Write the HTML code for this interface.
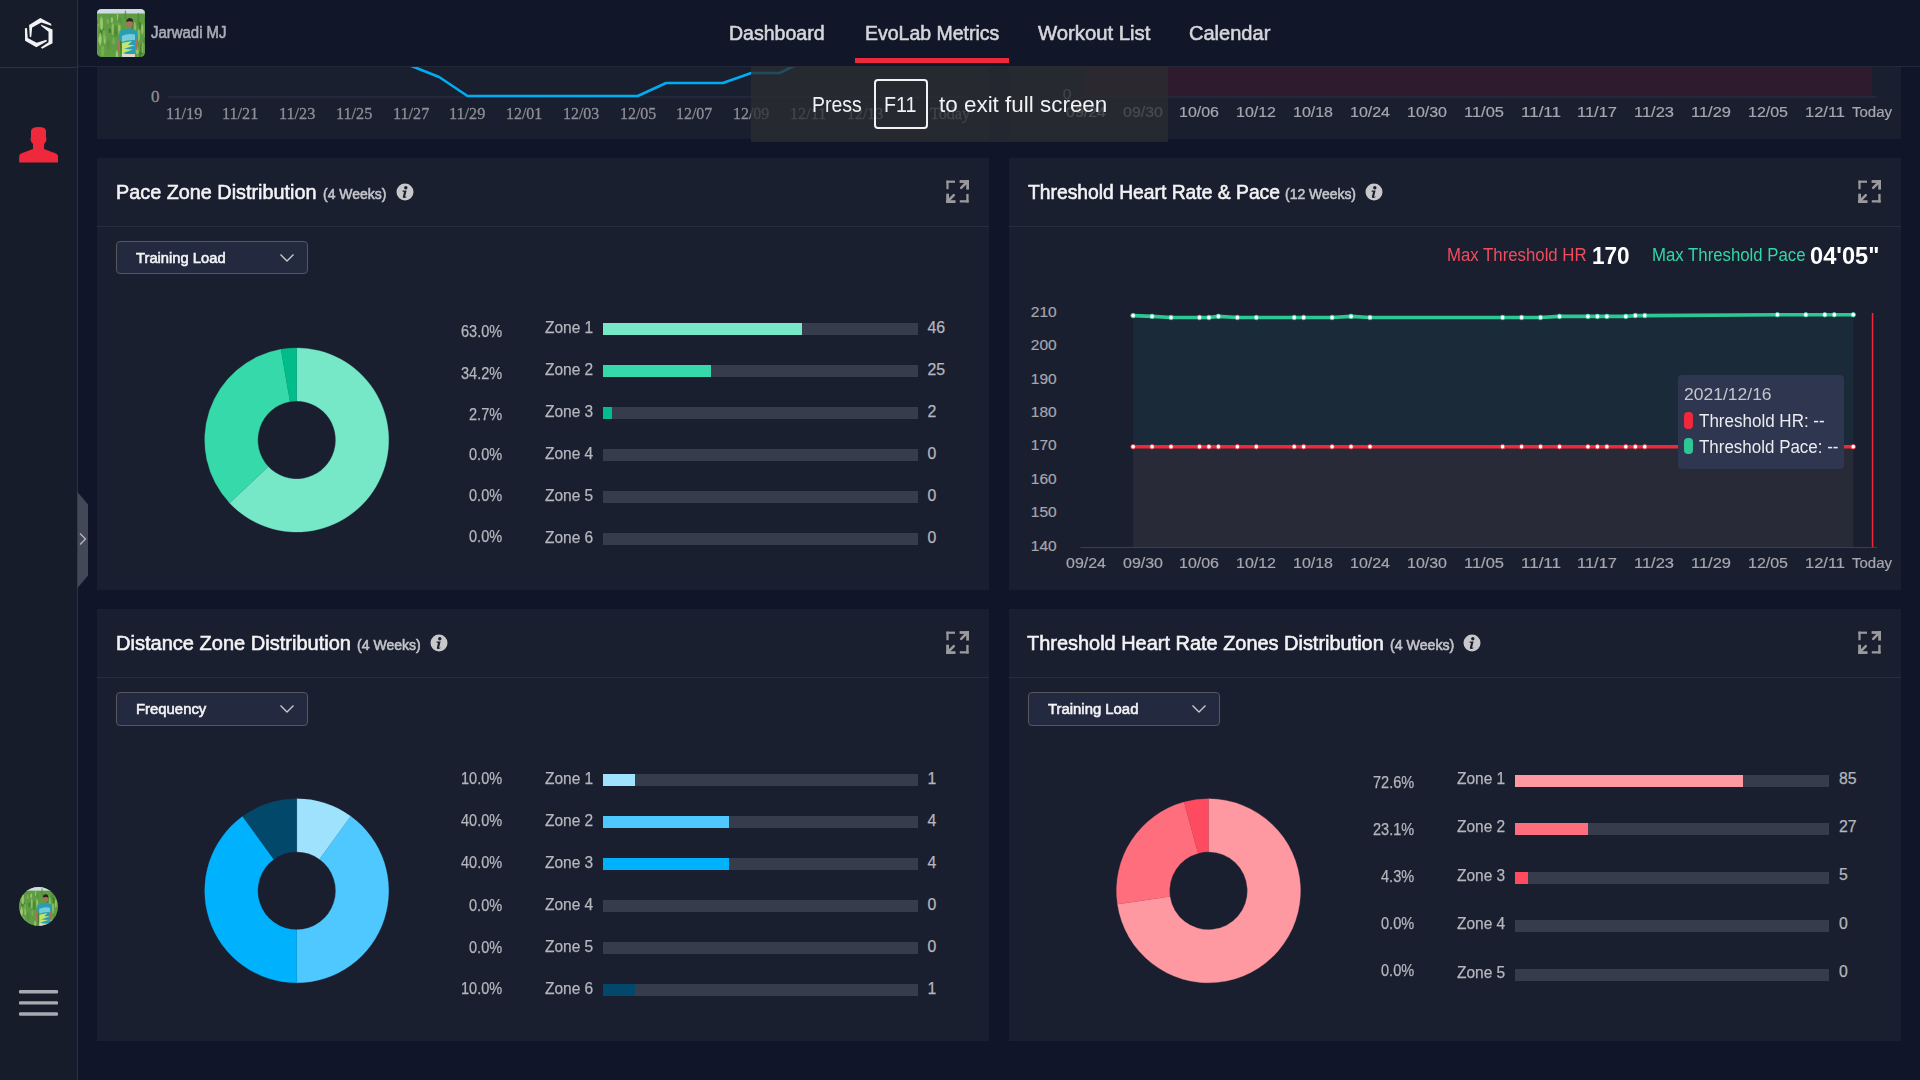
<!DOCTYPE html><html><head><meta charset="utf-8"><style>
html,body{margin:0;padding:0;width:1920px;height:1080px;overflow:hidden;background:#10152a;font-family:"Liberation Sans", sans-serif;}
.t{position:absolute;white-space:pre;}
.r{position:absolute;}
svg{position:absolute;left:0;top:0;}
</style></head><body>
<div class="r" style="left:97px;top:-300px;width:892px;height:439px;background:#1a1f30;"></div>
<div class="r" style="left:1009px;top:-300px;width:892px;height:439px;background:#1a1f30;"></div>
<div class="r" style="left:97px;top:158px;width:892px;height:432px;background:#1a1f30;"></div>
<div class="r" style="left:1009px;top:158px;width:892px;height:432px;background:#1a1f30;"></div>
<div class="r" style="left:97px;top:609px;width:892px;height:432px;background:#1a1f30;"></div>
<div class="r" style="left:1009px;top:609px;width:892px;height:432px;background:#1a1f30;"></div>
<div class="r" style="left:97px;top:226px;width:892px;height:1px;background:#272d3d;"></div>
<div class="r" style="left:1009px;top:226px;width:892px;height:1px;background:#272d3d;"></div>
<div class="r" style="left:97px;top:677px;width:892px;height:1px;background:#272d3d;"></div>
<div class="r" style="left:1009px;top:677px;width:892px;height:1px;background:#272d3d;"></div>
<div class="t" style="left:1446.80px;top:246.56px;font-size:17.5px;line-height:17.5px;color:#f14c5c;font-weight:normal;transform:scaleX(0.9590);transform-origin:left center;">Max Threshold HR</div>
<div class="t" style="left:1592.00px;top:243.83px;font-size:24px;line-height:24px;color:#ffffff;font-weight:bold;transform:scaleX(0.9392);transform-origin:left center;">170</div>
<div class="t" style="left:1651.50px;top:246.56px;font-size:17.5px;line-height:17.5px;color:#33d6a6;font-weight:normal;transform:scaleX(0.9589);transform-origin:left center;">Max Threshold Pace</div>
<div class="t" style="left:1809.90px;top:243.83px;font-size:24px;line-height:24px;color:#ffffff;font-weight:bold;transform:scaleX(0.9846);transform-origin:left center;">04'05"</div>
<div class="t" style="left:1030.85px;top:304.03px;font-size:15.5px;line-height:15.5px;color:#a6a7ae;font-weight:normal;-webkit-text-stroke:0.2px #a6a7ae;">210</div>
<div class="t" style="left:1030.85px;top:337.39px;font-size:15.5px;line-height:15.5px;color:#a6a7ae;font-weight:normal;-webkit-text-stroke:0.2px #a6a7ae;">200</div>
<div class="t" style="left:1030.85px;top:370.75px;font-size:15.5px;line-height:15.5px;color:#a6a7ae;font-weight:normal;-webkit-text-stroke:0.2px #a6a7ae;">190</div>
<div class="t" style="left:1030.85px;top:404.11px;font-size:15.5px;line-height:15.5px;color:#a6a7ae;font-weight:normal;-webkit-text-stroke:0.2px #a6a7ae;">180</div>
<div class="t" style="left:1030.85px;top:437.47px;font-size:15.5px;line-height:15.5px;color:#a6a7ae;font-weight:normal;-webkit-text-stroke:0.2px #a6a7ae;">170</div>
<div class="t" style="left:1030.85px;top:470.83px;font-size:15.5px;line-height:15.5px;color:#a6a7ae;font-weight:normal;-webkit-text-stroke:0.2px #a6a7ae;">160</div>
<div class="t" style="left:1030.85px;top:504.19px;font-size:15.5px;line-height:15.5px;color:#a6a7ae;font-weight:normal;-webkit-text-stroke:0.2px #a6a7ae;">150</div>
<div class="t" style="left:1030.85px;top:537.55px;font-size:15.5px;line-height:15.5px;color:#a6a7ae;font-weight:normal;-webkit-text-stroke:0.2px #a6a7ae;">140</div>
<div class="t" style="left:1065.75px;top:555.03px;font-size:15.5px;line-height:15.5px;color:#a6a7ae;font-weight:normal;transform:scaleX(1.0314);transform-origin:left center;-webkit-text-stroke:0.2px #a6a7ae;">09/24</div>
<div class="t" style="left:1122.60px;top:555.03px;font-size:15.5px;line-height:15.5px;color:#a6a7ae;font-weight:normal;transform:scaleX(1.0314);transform-origin:left center;-webkit-text-stroke:0.2px #a6a7ae;">09/30</div>
<div class="t" style="left:1179.45px;top:555.03px;font-size:15.5px;line-height:15.5px;color:#a6a7ae;font-weight:normal;transform:scaleX(1.0314);transform-origin:left center;-webkit-text-stroke:0.2px #a6a7ae;">10/06</div>
<div class="t" style="left:1236.30px;top:555.03px;font-size:15.5px;line-height:15.5px;color:#a6a7ae;font-weight:normal;transform:scaleX(1.0314);transform-origin:left center;-webkit-text-stroke:0.2px #a6a7ae;">10/12</div>
<div class="t" style="left:1293.15px;top:555.03px;font-size:15.5px;line-height:15.5px;color:#a6a7ae;font-weight:normal;transform:scaleX(1.0314);transform-origin:left center;-webkit-text-stroke:0.2px #a6a7ae;">10/18</div>
<div class="t" style="left:1350.00px;top:555.03px;font-size:15.5px;line-height:15.5px;color:#a6a7ae;font-weight:normal;transform:scaleX(1.0314);transform-origin:left center;-webkit-text-stroke:0.2px #a6a7ae;">10/24</div>
<div class="t" style="left:1406.85px;top:555.03px;font-size:15.5px;line-height:15.5px;color:#a6a7ae;font-weight:normal;transform:scaleX(1.0314);transform-origin:left center;-webkit-text-stroke:0.2px #a6a7ae;">10/30</div>
<div class="t" style="left:1463.70px;top:555.03px;font-size:15.5px;line-height:15.5px;color:#a6a7ae;font-weight:normal;transform:scaleX(1.0629);transform-origin:left center;-webkit-text-stroke:0.2px #a6a7ae;">11/05</div>
<div class="t" style="left:1520.55px;top:555.03px;font-size:15.5px;line-height:15.5px;color:#a6a7ae;font-weight:normal;transform:scaleX(1.0963);transform-origin:left center;-webkit-text-stroke:0.2px #a6a7ae;">11/11</div>
<div class="t" style="left:1577.40px;top:555.03px;font-size:15.5px;line-height:15.5px;color:#a6a7ae;font-weight:normal;transform:scaleX(1.0629);transform-origin:left center;-webkit-text-stroke:0.2px #a6a7ae;">11/17</div>
<div class="t" style="left:1634.25px;top:555.03px;font-size:15.5px;line-height:15.5px;color:#a6a7ae;font-weight:normal;transform:scaleX(1.0629);transform-origin:left center;-webkit-text-stroke:0.2px #a6a7ae;">11/23</div>
<div class="t" style="left:1691.10px;top:555.03px;font-size:15.5px;line-height:15.5px;color:#a6a7ae;font-weight:normal;transform:scaleX(1.0629);transform-origin:left center;-webkit-text-stroke:0.2px #a6a7ae;">11/29</div>
<div class="t" style="left:1747.95px;top:555.03px;font-size:15.5px;line-height:15.5px;color:#a6a7ae;font-weight:normal;transform:scaleX(1.0314);transform-origin:left center;-webkit-text-stroke:0.2px #a6a7ae;">12/05</div>
<div class="t" style="left:1804.80px;top:555.03px;font-size:15.5px;line-height:15.5px;color:#a6a7ae;font-weight:normal;transform:scaleX(1.0629);transform-origin:left center;-webkit-text-stroke:0.2px #a6a7ae;">12/11</div>
<div class="t" style="left:1851.70px;top:555.03px;font-size:15.5px;line-height:15.5px;color:#a6a7ae;font-weight:normal;transform:scaleX(0.9673);transform-origin:left center;-webkit-text-stroke:0.2px #a6a7ae;">Today</div>
<svg width="1920" height="1080" viewBox="0 0 1920 1080" style="left:0;top:0">
<path d="M1133.12,446.7 L1133.12,315.60 L1152.08,316.40 L1171.03,317.50 L1199.45,317.50 L1208.92,317.50 L1218.40,316.40 L1237.35,317.50 L1256.30,317.50 L1294.20,317.50 L1303.67,317.50 L1332.10,317.50 L1351.05,316.40 L1370.00,317.50 L1502.65,317.50 L1521.60,317.50 L1540.55,317.50 L1559.50,316.40 L1587.92,316.40 L1597.40,316.40 L1606.88,316.40 L1625.82,316.40 L1635.30,315.60 L1644.78,315.60 L1777.42,314.70 L1805.85,314.70 L1824.80,314.70 L1834.28,314.70 L1853.22,314.70 L1853.22,446.7 Z" fill="#1b2a38"/>
<rect x="1133.12" y="446.7" width="720.10" height="100.30000000000001" fill="#292a37"/>
<rect x="1080.5" y="547" width="796.5" height="1" fill="#3a3f4f"/>
<rect x="1871.8" y="313" width="1.5" height="234" fill="#f0283c"/>
<polyline points="1133.12,315.60 1152.08,316.40 1171.03,317.50 1199.45,317.50 1208.92,317.50 1218.40,316.40 1237.35,317.50 1256.30,317.50 1294.20,317.50 1303.67,317.50 1332.10,317.50 1351.05,316.40 1370.00,317.50 1502.65,317.50 1521.60,317.50 1540.55,317.50 1559.50,316.40 1587.92,316.40 1597.40,316.40 1606.88,316.40 1625.82,316.40 1635.30,315.60 1644.78,315.60 1777.42,314.70 1805.85,314.70 1824.80,314.70 1834.28,314.70 1853.22,314.70" fill="none" stroke="#2cc795" stroke-width="3.6" stroke-linejoin="round"/>
<polyline points="1133.12,446.7 1152.08,446.7 1171.03,446.7 1199.45,446.7 1208.92,446.7 1218.40,446.7 1237.35,446.7 1256.30,446.7 1294.20,446.7 1303.67,446.7 1332.10,446.7 1351.05,446.7 1370.00,446.7 1502.65,446.7 1521.60,446.7 1540.55,446.7 1559.50,446.7 1587.92,446.7 1597.40,446.7 1606.88,446.7 1625.82,446.7 1635.30,446.7 1644.78,446.7 1777.42,446.7 1805.85,446.7 1824.80,446.7 1834.28,446.7 1853.22,446.7" fill="none" stroke="#f0283c" stroke-width="3.5"/>
<circle cx="1133.12" cy="315.60" r="2.3" fill="#ffffff" stroke="#2cc795" stroke-width="0.8"/><circle cx="1152.08" cy="316.40" r="2.3" fill="#ffffff" stroke="#2cc795" stroke-width="0.8"/><circle cx="1171.03" cy="317.50" r="2.3" fill="#ffffff" stroke="#2cc795" stroke-width="0.8"/><circle cx="1199.45" cy="317.50" r="2.3" fill="#ffffff" stroke="#2cc795" stroke-width="0.8"/><circle cx="1208.92" cy="317.50" r="2.3" fill="#ffffff" stroke="#2cc795" stroke-width="0.8"/><circle cx="1218.40" cy="316.40" r="2.3" fill="#ffffff" stroke="#2cc795" stroke-width="0.8"/><circle cx="1237.35" cy="317.50" r="2.3" fill="#ffffff" stroke="#2cc795" stroke-width="0.8"/><circle cx="1256.30" cy="317.50" r="2.3" fill="#ffffff" stroke="#2cc795" stroke-width="0.8"/><circle cx="1294.20" cy="317.50" r="2.3" fill="#ffffff" stroke="#2cc795" stroke-width="0.8"/><circle cx="1303.67" cy="317.50" r="2.3" fill="#ffffff" stroke="#2cc795" stroke-width="0.8"/><circle cx="1332.10" cy="317.50" r="2.3" fill="#ffffff" stroke="#2cc795" stroke-width="0.8"/><circle cx="1351.05" cy="316.40" r="2.3" fill="#ffffff" stroke="#2cc795" stroke-width="0.8"/><circle cx="1370.00" cy="317.50" r="2.3" fill="#ffffff" stroke="#2cc795" stroke-width="0.8"/><circle cx="1502.65" cy="317.50" r="2.3" fill="#ffffff" stroke="#2cc795" stroke-width="0.8"/><circle cx="1521.60" cy="317.50" r="2.3" fill="#ffffff" stroke="#2cc795" stroke-width="0.8"/><circle cx="1540.55" cy="317.50" r="2.3" fill="#ffffff" stroke="#2cc795" stroke-width="0.8"/><circle cx="1559.50" cy="316.40" r="2.3" fill="#ffffff" stroke="#2cc795" stroke-width="0.8"/><circle cx="1587.92" cy="316.40" r="2.3" fill="#ffffff" stroke="#2cc795" stroke-width="0.8"/><circle cx="1597.40" cy="316.40" r="2.3" fill="#ffffff" stroke="#2cc795" stroke-width="0.8"/><circle cx="1606.88" cy="316.40" r="2.3" fill="#ffffff" stroke="#2cc795" stroke-width="0.8"/><circle cx="1625.82" cy="316.40" r="2.3" fill="#ffffff" stroke="#2cc795" stroke-width="0.8"/><circle cx="1635.30" cy="315.60" r="2.3" fill="#ffffff" stroke="#2cc795" stroke-width="0.8"/><circle cx="1644.78" cy="315.60" r="2.3" fill="#ffffff" stroke="#2cc795" stroke-width="0.8"/><circle cx="1777.42" cy="314.70" r="2.3" fill="#ffffff" stroke="#2cc795" stroke-width="0.8"/><circle cx="1805.85" cy="314.70" r="2.3" fill="#ffffff" stroke="#2cc795" stroke-width="0.8"/><circle cx="1824.80" cy="314.70" r="2.3" fill="#ffffff" stroke="#2cc795" stroke-width="0.8"/><circle cx="1834.28" cy="314.70" r="2.3" fill="#ffffff" stroke="#2cc795" stroke-width="0.8"/><circle cx="1853.22" cy="314.70" r="2.3" fill="#ffffff" stroke="#2cc795" stroke-width="0.8"/><circle cx="1133.12" cy="446.7" r="2.3" fill="#ffffff" stroke="#e8333f" stroke-width="0.9"/><circle cx="1152.08" cy="446.7" r="2.3" fill="#ffffff" stroke="#e8333f" stroke-width="0.9"/><circle cx="1171.03" cy="446.7" r="2.3" fill="#ffffff" stroke="#e8333f" stroke-width="0.9"/><circle cx="1199.45" cy="446.7" r="2.3" fill="#ffffff" stroke="#e8333f" stroke-width="0.9"/><circle cx="1208.92" cy="446.7" r="2.3" fill="#ffffff" stroke="#e8333f" stroke-width="0.9"/><circle cx="1218.40" cy="446.7" r="2.3" fill="#ffffff" stroke="#e8333f" stroke-width="0.9"/><circle cx="1237.35" cy="446.7" r="2.3" fill="#ffffff" stroke="#e8333f" stroke-width="0.9"/><circle cx="1256.30" cy="446.7" r="2.3" fill="#ffffff" stroke="#e8333f" stroke-width="0.9"/><circle cx="1294.20" cy="446.7" r="2.3" fill="#ffffff" stroke="#e8333f" stroke-width="0.9"/><circle cx="1303.67" cy="446.7" r="2.3" fill="#ffffff" stroke="#e8333f" stroke-width="0.9"/><circle cx="1332.10" cy="446.7" r="2.3" fill="#ffffff" stroke="#e8333f" stroke-width="0.9"/><circle cx="1351.05" cy="446.7" r="2.3" fill="#ffffff" stroke="#e8333f" stroke-width="0.9"/><circle cx="1370.00" cy="446.7" r="2.3" fill="#ffffff" stroke="#e8333f" stroke-width="0.9"/><circle cx="1502.65" cy="446.7" r="2.3" fill="#ffffff" stroke="#e8333f" stroke-width="0.9"/><circle cx="1521.60" cy="446.7" r="2.3" fill="#ffffff" stroke="#e8333f" stroke-width="0.9"/><circle cx="1540.55" cy="446.7" r="2.3" fill="#ffffff" stroke="#e8333f" stroke-width="0.9"/><circle cx="1559.50" cy="446.7" r="2.3" fill="#ffffff" stroke="#e8333f" stroke-width="0.9"/><circle cx="1587.92" cy="446.7" r="2.3" fill="#ffffff" stroke="#e8333f" stroke-width="0.9"/><circle cx="1597.40" cy="446.7" r="2.3" fill="#ffffff" stroke="#e8333f" stroke-width="0.9"/><circle cx="1606.88" cy="446.7" r="2.3" fill="#ffffff" stroke="#e8333f" stroke-width="0.9"/><circle cx="1625.82" cy="446.7" r="2.3" fill="#ffffff" stroke="#e8333f" stroke-width="0.9"/><circle cx="1635.30" cy="446.7" r="2.3" fill="#ffffff" stroke="#e8333f" stroke-width="0.9"/><circle cx="1644.78" cy="446.7" r="2.3" fill="#ffffff" stroke="#e8333f" stroke-width="0.9"/><circle cx="1777.42" cy="446.7" r="2.3" fill="#ffffff" stroke="#e8333f" stroke-width="0.9"/><circle cx="1805.85" cy="446.7" r="2.3" fill="#ffffff" stroke="#e8333f" stroke-width="0.9"/><circle cx="1824.80" cy="446.7" r="2.3" fill="#ffffff" stroke="#e8333f" stroke-width="0.9"/><circle cx="1834.28" cy="446.7" r="2.3" fill="#ffffff" stroke="#e8333f" stroke-width="0.9"/><circle cx="1853.22" cy="446.7" r="2.3" fill="#ffffff" stroke="#e8333f" stroke-width="0.9"/></svg>
<div class="r" style="left:1678px;top:375px;width:166px;height:94px;background:#2e3650;border-radius:4px;"></div>
<div class="t" style="left:1684.40px;top:386.05px;font-size:16.5px;line-height:16.5px;color:#c6c7cd;font-weight:normal;transform:scaleX(1.0608);transform-origin:left center;">2021/12/16</div>
<div class="r" style="left:1684px;top:412px;width:9px;height:17px;background:#f0283c;border-radius:4px;"></div>
<div class="r" style="left:1684px;top:438px;width:9px;height:16px;background:#2cc795;border-radius:4px;"></div>
<div class="t" style="left:1699.30px;top:413.26px;font-size:17.5px;line-height:17.5px;color:#ececef;font-weight:normal;transform:scaleX(0.9718);transform-origin:left center;">Threshold HR: --</div>
<div class="t" style="left:1699.30px;top:439.46px;font-size:17.5px;line-height:17.5px;color:#ececef;font-weight:normal;transform:scaleX(0.9691);transform-origin:left center;">Threshold Pace: --</div>
<div class="t" style="left:150.90px;top:88.10px;font-size:17px;line-height:17px;color:#8e8f95;font-weight:normal;-webkit-text-stroke:0.3px #8e8f95;font-family:'Liberation Serif',serif;">0</div>
<div class="t" style="left:165.60px;top:105.10px;font-size:17px;line-height:17px;color:#8e8f95;font-weight:normal;transform:scaleX(0.9528);transform-origin:left center;-webkit-text-stroke:0.3px #8e8f95;font-family:'Liberation Serif',serif;">11/19</div>
<div class="t" style="left:222.35px;top:105.10px;font-size:17px;line-height:17px;color:#8e8f95;font-weight:normal;transform:scaleX(0.9528);transform-origin:left center;-webkit-text-stroke:0.3px #8e8f95;font-family:'Liberation Serif',serif;">11/21</div>
<div class="t" style="left:279.10px;top:105.10px;font-size:17px;line-height:17px;color:#8e8f95;font-weight:normal;transform:scaleX(0.9528);transform-origin:left center;-webkit-text-stroke:0.3px #8e8f95;font-family:'Liberation Serif',serif;">11/23</div>
<div class="t" style="left:335.85px;top:105.10px;font-size:17px;line-height:17px;color:#8e8f95;font-weight:normal;transform:scaleX(0.9528);transform-origin:left center;-webkit-text-stroke:0.3px #8e8f95;font-family:'Liberation Serif',serif;">11/25</div>
<div class="t" style="left:392.60px;top:105.10px;font-size:17px;line-height:17px;color:#8e8f95;font-weight:normal;transform:scaleX(0.9528);transform-origin:left center;-webkit-text-stroke:0.3px #8e8f95;font-family:'Liberation Serif',serif;">11/27</div>
<div class="t" style="left:449.35px;top:105.10px;font-size:17px;line-height:17px;color:#8e8f95;font-weight:normal;transform:scaleX(0.9528);transform-origin:left center;-webkit-text-stroke:0.3px #8e8f95;font-family:'Liberation Serif',serif;">11/29</div>
<div class="t" style="left:506.10px;top:105.10px;font-size:17px;line-height:17px;color:#8e8f95;font-weight:normal;transform:scaleX(0.9374);transform-origin:left center;-webkit-text-stroke:0.3px #8e8f95;font-family:'Liberation Serif',serif;">12/01</div>
<div class="t" style="left:562.85px;top:105.10px;font-size:17px;line-height:17px;color:#8e8f95;font-weight:normal;transform:scaleX(0.9374);transform-origin:left center;-webkit-text-stroke:0.3px #8e8f95;font-family:'Liberation Serif',serif;">12/03</div>
<div class="t" style="left:619.60px;top:105.10px;font-size:17px;line-height:17px;color:#8e8f95;font-weight:normal;transform:scaleX(0.9374);transform-origin:left center;-webkit-text-stroke:0.3px #8e8f95;font-family:'Liberation Serif',serif;">12/05</div>
<div class="t" style="left:676.35px;top:105.10px;font-size:17px;line-height:17px;color:#8e8f95;font-weight:normal;transform:scaleX(0.9374);transform-origin:left center;-webkit-text-stroke:0.3px #8e8f95;font-family:'Liberation Serif',serif;">12/07</div>
<div class="t" style="left:733.10px;top:105.10px;font-size:17px;line-height:17px;color:#8e8f95;font-weight:normal;transform:scaleX(0.9374);transform-origin:left center;-webkit-text-stroke:0.3px #8e8f95;font-family:'Liberation Serif',serif;">12/09</div>
<div class="t" style="left:789.85px;top:105.10px;font-size:17px;line-height:17px;color:#8e8f95;font-weight:normal;transform:scaleX(0.9528);transform-origin:left center;-webkit-text-stroke:0.3px #8e8f95;font-family:'Liberation Serif',serif;">12/11</div>
<div class="t" style="left:846.60px;top:105.10px;font-size:17px;line-height:17px;color:#8e8f95;font-weight:normal;transform:scaleX(0.9374);transform-origin:left center;-webkit-text-stroke:0.3px #8e8f95;font-family:'Liberation Serif',serif;">12/13</div>
<div class="t" style="left:929.88px;top:105.10px;font-size:17px;line-height:17px;color:#8e8f95;font-weight:normal;transform:scaleX(0.9469);transform-origin:left center;-webkit-text-stroke:0.3px #8e8f95;font-family:'Liberation Serif',serif;">Today</div>
<svg width="1920" height="1080" viewBox="0 0 1920 1080" style="left:0;top:0">
<rect x="168" y="96.5" width="800" height="1" fill="#2c3142"/>
<polyline points="382.38,55 410.75,65.8 439.12,77 467.50,96 637.75,96 666.12,83 722.88,83 751.25,73 779.62,73 808.00,59 836.38,52" fill="none" stroke="#00adf0" stroke-width="2.6" stroke-linejoin="round"/>
<rect x="1085.4" y="40" width="786.6" height="55.75" fill="#2e1c2e"/>
<rect x="1080.8" y="96.5" width="796" height="1" fill="#2c3142"/>
</svg>
<div class="t" style="left:1062.63px;top:85.93px;font-size:15.5px;line-height:15.5px;color:#8e8f95;font-weight:normal;">0</div>
<div class="t" style="left:1065.75px;top:104.03px;font-size:15.5px;line-height:15.5px;color:#a6a7ae;font-weight:normal;transform:scaleX(1.0314);transform-origin:left center;-webkit-text-stroke:0.2px #a6a7ae;">09/24</div>
<div class="t" style="left:1122.60px;top:104.03px;font-size:15.5px;line-height:15.5px;color:#a6a7ae;font-weight:normal;transform:scaleX(1.0314);transform-origin:left center;-webkit-text-stroke:0.2px #a6a7ae;">09/30</div>
<div class="t" style="left:1179.45px;top:104.03px;font-size:15.5px;line-height:15.5px;color:#a6a7ae;font-weight:normal;transform:scaleX(1.0314);transform-origin:left center;-webkit-text-stroke:0.2px #a6a7ae;">10/06</div>
<div class="t" style="left:1236.30px;top:104.03px;font-size:15.5px;line-height:15.5px;color:#a6a7ae;font-weight:normal;transform:scaleX(1.0314);transform-origin:left center;-webkit-text-stroke:0.2px #a6a7ae;">10/12</div>
<div class="t" style="left:1293.15px;top:104.03px;font-size:15.5px;line-height:15.5px;color:#a6a7ae;font-weight:normal;transform:scaleX(1.0314);transform-origin:left center;-webkit-text-stroke:0.2px #a6a7ae;">10/18</div>
<div class="t" style="left:1350.00px;top:104.03px;font-size:15.5px;line-height:15.5px;color:#a6a7ae;font-weight:normal;transform:scaleX(1.0314);transform-origin:left center;-webkit-text-stroke:0.2px #a6a7ae;">10/24</div>
<div class="t" style="left:1406.85px;top:104.03px;font-size:15.5px;line-height:15.5px;color:#a6a7ae;font-weight:normal;transform:scaleX(1.0314);transform-origin:left center;-webkit-text-stroke:0.2px #a6a7ae;">10/30</div>
<div class="t" style="left:1463.70px;top:104.03px;font-size:15.5px;line-height:15.5px;color:#a6a7ae;font-weight:normal;transform:scaleX(1.0629);transform-origin:left center;-webkit-text-stroke:0.2px #a6a7ae;">11/05</div>
<div class="t" style="left:1520.55px;top:104.03px;font-size:15.5px;line-height:15.5px;color:#a6a7ae;font-weight:normal;transform:scaleX(1.0963);transform-origin:left center;-webkit-text-stroke:0.2px #a6a7ae;">11/11</div>
<div class="t" style="left:1577.40px;top:104.03px;font-size:15.5px;line-height:15.5px;color:#a6a7ae;font-weight:normal;transform:scaleX(1.0629);transform-origin:left center;-webkit-text-stroke:0.2px #a6a7ae;">11/17</div>
<div class="t" style="left:1634.25px;top:104.03px;font-size:15.5px;line-height:15.5px;color:#a6a7ae;font-weight:normal;transform:scaleX(1.0629);transform-origin:left center;-webkit-text-stroke:0.2px #a6a7ae;">11/23</div>
<div class="t" style="left:1691.10px;top:104.03px;font-size:15.5px;line-height:15.5px;color:#a6a7ae;font-weight:normal;transform:scaleX(1.0629);transform-origin:left center;-webkit-text-stroke:0.2px #a6a7ae;">11/29</div>
<div class="t" style="left:1747.95px;top:104.03px;font-size:15.5px;line-height:15.5px;color:#a6a7ae;font-weight:normal;transform:scaleX(1.0314);transform-origin:left center;-webkit-text-stroke:0.2px #a6a7ae;">12/05</div>
<div class="t" style="left:1804.80px;top:104.03px;font-size:15.5px;line-height:15.5px;color:#a6a7ae;font-weight:normal;transform:scaleX(1.0629);transform-origin:left center;-webkit-text-stroke:0.2px #a6a7ae;">12/11</div>
<div class="t" style="left:1851.70px;top:104.03px;font-size:15.5px;line-height:15.5px;color:#a6a7ae;font-weight:normal;transform:scaleX(0.9673);transform-origin:left center;-webkit-text-stroke:0.2px #a6a7ae;">Today</div>
<div class="r" style="left:78px;top:0px;width:1842px;height:66px;background:#111628;"></div>
<div class="r" style="left:78px;top:66px;width:1842px;height:1px;background:#232838;"></div>
<div class="r" style="left:0px;top:0px;width:77px;height:1080px;background:#171c2b;"></div>
<div class="r" style="left:77px;top:0px;width:1px;height:1080px;background:#2c3140;"></div>
<div class="r" style="left:0px;top:67px;width:77px;height:1px;background:#2c3140;"></div>
<svg width="77" height="67" viewBox="0 0 77 67" style="left:0;top:0">
<g fill="#f2f2f4">
<polygon points="29.83,37.17 29.07,25.00 40.33,18.07 51.07,23.73 51.50,25.83 41.33,22.40 32.17,27.60 31.27,36.83"/>
<polygon points="40.83,24.60 52.50,29.50 52.50,43.17 42.17,48.83 40.83,47.50 48.50,42.33 48.50,31.83 41.27,26.00"/>
<polygon points="24.93,28.33 27.00,27.93 27.73,38.00 36.67,42.83 46.50,39.83 46.93,41.33 36.33,47.17 25.07,40.67"/>
</g></svg>
<svg width="77" height="40" viewBox="0 0 77 40" style="left:0;top:125px">
<path fill="#f0283b" d="M31,6 Q31.5,2 38.6,2 Q46,2 46,6 L46,12 Q47,13 46,16.5 L44.2,19 L44,24 L56,28.5 Q58,29.5 58,31 L58,37.5 L19.2,37.5 L19.2,31 Q19.2,29.5 21,28.5 L33,24 L33,19 L31,16.5 Q30,13 31,12 Z"/>
</svg>
<svg width="20" height="100" viewBox="0 0 20 100" style="left:77px;top:490px">
<path fill="#424857" d="M0.5,2 L11,14.5 L11,85.6 L0.5,98 Z"/>
<polyline points="3,43.5 8.5,49 3,54.5" fill="none" stroke="#b3b6bd" stroke-width="1.4"/>
</svg>
<svg width="77" height="40" viewBox="0 0 77 40" style="left:0;top:980px"><rect x="19" y="10.1" width="39" height="3.4" rx="1.2" fill="#a7aab1"/><rect x="19" y="21.2" width="39" height="3.4" rx="1.2" fill="#a7aab1"/><rect x="19" y="32.3" width="39" height="3.4" rx="1.2" fill="#a7aab1"/></svg>
<svg width="48" height="48" viewBox="0 0 48 48" style="left:97px;top:9px">
<defs><clipPath id="clip979"><rect x="0" y="0" width="48" height="48" rx="4.5"/></clipPath><filter id="blclip979"><feGaussianBlur stdDeviation="0.5"/></filter></defs>
<g clip-path="url(#clip979)">
<rect width="48" height="48" fill="#5f9c44"/>
<rect width="48" height="4.5" fill="#cfdde2"/>
<g filter="url(#blclip979)"><ellipse cx="14.8" cy="10.9" rx="1.4" ry="2.8" fill="#a8d47a" opacity="0.7"/><ellipse cx="2.9" cy="30.8" rx="1.7" ry="3.5" fill="#9ccb6c" opacity="0.7"/><ellipse cx="20.5" cy="7.2" rx="0.7" ry="4.4" fill="#a8d47a" opacity="0.7"/><ellipse cx="4.4" cy="14.3" rx="1.4" ry="6.8" fill="#a8d47a" opacity="0.7"/><ellipse cx="28.4" cy="6.3" rx="0.9" ry="5.0" fill="#4a8a30" opacity="0.7"/><ellipse cx="13.1" cy="10.6" rx="0.7" ry="3.9" fill="#568f38" opacity="0.7"/><ellipse cx="7.4" cy="30.8" rx="1.4" ry="4.2" fill="#a8d47a" opacity="0.7"/><ellipse cx="35.0" cy="30.0" rx="1.3" ry="4.7" fill="#a8d47a" opacity="0.7"/><ellipse cx="20.2" cy="18.5" rx="1.3" ry="4.5" fill="#7fb555" opacity="0.7"/><ellipse cx="10.9" cy="12.3" rx="1.5" ry="2.9" fill="#7fb555" opacity="0.7"/><ellipse cx="25.3" cy="44.3" rx="1.5" ry="3.8" fill="#9ccb6c" opacity="0.7"/><ellipse cx="4.1" cy="23.2" rx="1.5" ry="3.2" fill="#3b7027" opacity="0.7"/><ellipse cx="19.9" cy="48.3" rx="0.7" ry="5.0" fill="#7fb555" opacity="0.7"/><ellipse cx="15.7" cy="20.1" rx="1.2" ry="6.1" fill="#9ccb6c" opacity="0.7"/><ellipse cx="41.7" cy="47.5" rx="1.2" ry="5.5" fill="#9ccb6c" opacity="0.7"/><ellipse cx="36.0" cy="18.2" rx="1.3" ry="5.6" fill="#3b7027" opacity="0.7"/><ellipse cx="12.8" cy="21.7" rx="1.4" ry="2.6" fill="#3b7027" opacity="0.7"/><ellipse cx="16.5" cy="32.1" rx="1.2" ry="3.5" fill="#7fb555" opacity="0.7"/><ellipse cx="4.7" cy="15.4" rx="1.1" ry="6.4" fill="#9ccb6c" opacity="0.7"/><ellipse cx="6.7" cy="22.5" rx="0.9" ry="3.1" fill="#3b7027" opacity="0.7"/><ellipse cx="42.9" cy="16.8" rx="1.1" ry="4.1" fill="#3b7027" opacity="0.7"/><ellipse cx="47.8" cy="10.9" rx="0.8" ry="3.5" fill="#4a8a30" opacity="0.7"/><ellipse cx="-1.4" cy="42.2" rx="0.8" ry="3.8" fill="#4a8a30" opacity="0.7"/><ellipse cx="19.8" cy="21.0" rx="1.3" ry="6.8" fill="#568f38" opacity="0.7"/><ellipse cx="42.7" cy="47.7" rx="1.4" ry="5.8" fill="#3b7027" opacity="0.7"/><ellipse cx="44.8" cy="39.9" rx="1.6" ry="6.1" fill="#3b7027" opacity="0.7"/><ellipse cx="18.7" cy="22.1" rx="1.2" ry="4.3" fill="#4a8a30" opacity="0.7"/><ellipse cx="1.5" cy="13.6" rx="0.8" ry="4.0" fill="#9ccb6c" opacity="0.7"/><ellipse cx="3.3" cy="30.1" rx="1.2" ry="6.8" fill="#a8d47a" opacity="0.7"/><ellipse cx="-0.7" cy="44.2" rx="1.3" ry="3.2" fill="#7fb555" opacity="0.7"/><ellipse cx="47.7" cy="31.7" rx="1.2" ry="3.0" fill="#3b7027" opacity="0.7"/><ellipse cx="49.6" cy="25.4" rx="1.2" ry="2.9" fill="#9ccb6c" opacity="0.7"/><ellipse cx="37.0" cy="38.1" rx="1.2" ry="5.6" fill="#a8d47a" opacity="0.7"/><ellipse cx="-0.8" cy="47.7" rx="1.2" ry="3.2" fill="#a8d47a" opacity="0.7"/><ellipse cx="45.5" cy="38.9" rx="1.0" ry="5.4" fill="#9ccb6c" opacity="0.7"/><ellipse cx="34.2" cy="16.0" rx="1.0" ry="3.3" fill="#4a8a30" opacity="0.7"/><ellipse cx="25.7" cy="39.8" rx="1.0" ry="3.5" fill="#4a8a30" opacity="0.7"/><ellipse cx="39.9" cy="41.6" rx="1.5" ry="3.5" fill="#a8d47a" opacity="0.7"/><ellipse cx="23.6" cy="37.6" rx="1.8" ry="6.1" fill="#3b7027" opacity="0.7"/><ellipse cx="11.5" cy="35.9" rx="1.7" ry="4.5" fill="#568f38" opacity="0.7"/><ellipse cx="49.4" cy="47.9" rx="1.0" ry="3.5" fill="#4a8a30" opacity="0.7"/><ellipse cx="22.4" cy="19.5" rx="1.2" ry="6.9" fill="#a8d47a" opacity="0.7"/><ellipse cx="41.7" cy="26.1" rx="1.4" ry="6.1" fill="#9ccb6c" opacity="0.7"/><ellipse cx="41.4" cy="9.5" rx="1.1" ry="5.7" fill="#4a8a30" opacity="0.7"/><ellipse cx="22.9" cy="12.2" rx="1.5" ry="4.0" fill="#568f38" opacity="0.7"/><ellipse cx="18.6" cy="22.5" rx="1.7" ry="5.8" fill="#4a8a30" opacity="0.7"/><ellipse cx="49.6" cy="5.3" rx="1.3" ry="4.6" fill="#568f38" opacity="0.7"/><ellipse cx="5.6" cy="42.0" rx="1.8" ry="5.5" fill="#7fb555" opacity="0.7"/><ellipse cx="6.1" cy="29.2" rx="0.6" ry="6.1" fill="#568f38" opacity="0.7"/><ellipse cx="31.8" cy="28.2" rx="1.7" ry="4.5" fill="#4a8a30" opacity="0.7"/><ellipse cx="41.0" cy="13.7" rx="0.9" ry="3.8" fill="#4a8a30" opacity="0.7"/><ellipse cx="37.7" cy="19.0" rx="1.3" ry="6.3" fill="#9ccb6c" opacity="0.7"/><ellipse cx="45.3" cy="20.3" rx="1.1" ry="5.1" fill="#a8d47a" opacity="0.7"/><ellipse cx="19.9" cy="46.2" rx="1.2" ry="4.9" fill="#a8d47a" opacity="0.7"/><ellipse cx="24.5" cy="44.1" rx="1.5" ry="5.2" fill="#4a8a30" opacity="0.7"/><ellipse cx="7.0" cy="25.8" rx="1.5" ry="5.0" fill="#7fb555" opacity="0.7"/><ellipse cx="33.5" cy="28.4" rx="1.2" ry="6.0" fill="#a8d47a" opacity="0.7"/><ellipse cx="1.0" cy="12.8" rx="0.7" ry="2.9" fill="#3b7027" opacity="0.7"/><ellipse cx="27.2" cy="39.0" rx="1.7" ry="4.5" fill="#a8d47a" opacity="0.7"/><ellipse cx="48.6" cy="31.9" rx="0.8" ry="3.7" fill="#a8d47a" opacity="0.7"/>
<ellipse cx="32.5" cy="14.5" rx="3.3" ry="4.2" fill="#a8735a"/>
<path d="M29.2,13 Q29.5,9 33,9 Q36.5,9.5 36,13 Q33,11.5 29.2,13Z" fill="#2c2420"/>
<path d="M22.5,22 Q27,19.5 33,19.5 Q38.5,20 40.5,23 L41,31 L38.5,31.5 L38.5,46 L25,46 L24.5,31 L21.5,31 Z" fill="#2b9db6"/>
<path d="M24.8,27 Q31,24 38,25.5 L38,31 Q31,30.5 25,33Z" fill="#8ad8e0" opacity="0.8"/>
<path d="M25,34 L35,32 L31,36 L38,36 L27,40 L36,40.5 L26,44 L33,46 L25,46Z" fill="#d6ec5e" opacity="0.9"/>
<rect x="20.5" y="30" width="2.6" height="13" rx="1" fill="#a8735a"/>
<rect x="38.2" y="30" width="2.2" height="11" rx="1" fill="#a8735a"/>
<rect x="25" y="45" width="13" height="4" fill="#ddd8c8"/>
</g>
</g></svg>
<svg width="39" height="39" viewBox="0 0 48 48" style="left:19px;top:887px">
<defs><clipPath id="clip19887"><circle cx="24" cy="24" r="24"/></clipPath><filter id="blclip19887"><feGaussianBlur stdDeviation="0.5"/></filter></defs>
<g clip-path="url(#clip19887)">
<rect width="48" height="48" fill="#5f9c44"/>
<rect width="48" height="4.5" fill="#cfdde2"/>
<g filter="url(#blclip19887)"><ellipse cx="14.8" cy="10.9" rx="1.4" ry="2.8" fill="#a8d47a" opacity="0.7"/><ellipse cx="2.9" cy="30.8" rx="1.7" ry="3.5" fill="#9ccb6c" opacity="0.7"/><ellipse cx="20.5" cy="7.2" rx="0.7" ry="4.4" fill="#a8d47a" opacity="0.7"/><ellipse cx="4.4" cy="14.3" rx="1.4" ry="6.8" fill="#a8d47a" opacity="0.7"/><ellipse cx="28.4" cy="6.3" rx="0.9" ry="5.0" fill="#4a8a30" opacity="0.7"/><ellipse cx="13.1" cy="10.6" rx="0.7" ry="3.9" fill="#568f38" opacity="0.7"/><ellipse cx="7.4" cy="30.8" rx="1.4" ry="4.2" fill="#a8d47a" opacity="0.7"/><ellipse cx="35.0" cy="30.0" rx="1.3" ry="4.7" fill="#a8d47a" opacity="0.7"/><ellipse cx="20.2" cy="18.5" rx="1.3" ry="4.5" fill="#7fb555" opacity="0.7"/><ellipse cx="10.9" cy="12.3" rx="1.5" ry="2.9" fill="#7fb555" opacity="0.7"/><ellipse cx="25.3" cy="44.3" rx="1.5" ry="3.8" fill="#9ccb6c" opacity="0.7"/><ellipse cx="4.1" cy="23.2" rx="1.5" ry="3.2" fill="#3b7027" opacity="0.7"/><ellipse cx="19.9" cy="48.3" rx="0.7" ry="5.0" fill="#7fb555" opacity="0.7"/><ellipse cx="15.7" cy="20.1" rx="1.2" ry="6.1" fill="#9ccb6c" opacity="0.7"/><ellipse cx="41.7" cy="47.5" rx="1.2" ry="5.5" fill="#9ccb6c" opacity="0.7"/><ellipse cx="36.0" cy="18.2" rx="1.3" ry="5.6" fill="#3b7027" opacity="0.7"/><ellipse cx="12.8" cy="21.7" rx="1.4" ry="2.6" fill="#3b7027" opacity="0.7"/><ellipse cx="16.5" cy="32.1" rx="1.2" ry="3.5" fill="#7fb555" opacity="0.7"/><ellipse cx="4.7" cy="15.4" rx="1.1" ry="6.4" fill="#9ccb6c" opacity="0.7"/><ellipse cx="6.7" cy="22.5" rx="0.9" ry="3.1" fill="#3b7027" opacity="0.7"/><ellipse cx="42.9" cy="16.8" rx="1.1" ry="4.1" fill="#3b7027" opacity="0.7"/><ellipse cx="47.8" cy="10.9" rx="0.8" ry="3.5" fill="#4a8a30" opacity="0.7"/><ellipse cx="-1.4" cy="42.2" rx="0.8" ry="3.8" fill="#4a8a30" opacity="0.7"/><ellipse cx="19.8" cy="21.0" rx="1.3" ry="6.8" fill="#568f38" opacity="0.7"/><ellipse cx="42.7" cy="47.7" rx="1.4" ry="5.8" fill="#3b7027" opacity="0.7"/><ellipse cx="44.8" cy="39.9" rx="1.6" ry="6.1" fill="#3b7027" opacity="0.7"/><ellipse cx="18.7" cy="22.1" rx="1.2" ry="4.3" fill="#4a8a30" opacity="0.7"/><ellipse cx="1.5" cy="13.6" rx="0.8" ry="4.0" fill="#9ccb6c" opacity="0.7"/><ellipse cx="3.3" cy="30.1" rx="1.2" ry="6.8" fill="#a8d47a" opacity="0.7"/><ellipse cx="-0.7" cy="44.2" rx="1.3" ry="3.2" fill="#7fb555" opacity="0.7"/><ellipse cx="47.7" cy="31.7" rx="1.2" ry="3.0" fill="#3b7027" opacity="0.7"/><ellipse cx="49.6" cy="25.4" rx="1.2" ry="2.9" fill="#9ccb6c" opacity="0.7"/><ellipse cx="37.0" cy="38.1" rx="1.2" ry="5.6" fill="#a8d47a" opacity="0.7"/><ellipse cx="-0.8" cy="47.7" rx="1.2" ry="3.2" fill="#a8d47a" opacity="0.7"/><ellipse cx="45.5" cy="38.9" rx="1.0" ry="5.4" fill="#9ccb6c" opacity="0.7"/><ellipse cx="34.2" cy="16.0" rx="1.0" ry="3.3" fill="#4a8a30" opacity="0.7"/><ellipse cx="25.7" cy="39.8" rx="1.0" ry="3.5" fill="#4a8a30" opacity="0.7"/><ellipse cx="39.9" cy="41.6" rx="1.5" ry="3.5" fill="#a8d47a" opacity="0.7"/><ellipse cx="23.6" cy="37.6" rx="1.8" ry="6.1" fill="#3b7027" opacity="0.7"/><ellipse cx="11.5" cy="35.9" rx="1.7" ry="4.5" fill="#568f38" opacity="0.7"/><ellipse cx="49.4" cy="47.9" rx="1.0" ry="3.5" fill="#4a8a30" opacity="0.7"/><ellipse cx="22.4" cy="19.5" rx="1.2" ry="6.9" fill="#a8d47a" opacity="0.7"/><ellipse cx="41.7" cy="26.1" rx="1.4" ry="6.1" fill="#9ccb6c" opacity="0.7"/><ellipse cx="41.4" cy="9.5" rx="1.1" ry="5.7" fill="#4a8a30" opacity="0.7"/><ellipse cx="22.9" cy="12.2" rx="1.5" ry="4.0" fill="#568f38" opacity="0.7"/><ellipse cx="18.6" cy="22.5" rx="1.7" ry="5.8" fill="#4a8a30" opacity="0.7"/><ellipse cx="49.6" cy="5.3" rx="1.3" ry="4.6" fill="#568f38" opacity="0.7"/><ellipse cx="5.6" cy="42.0" rx="1.8" ry="5.5" fill="#7fb555" opacity="0.7"/><ellipse cx="6.1" cy="29.2" rx="0.6" ry="6.1" fill="#568f38" opacity="0.7"/><ellipse cx="31.8" cy="28.2" rx="1.7" ry="4.5" fill="#4a8a30" opacity="0.7"/><ellipse cx="41.0" cy="13.7" rx="0.9" ry="3.8" fill="#4a8a30" opacity="0.7"/><ellipse cx="37.7" cy="19.0" rx="1.3" ry="6.3" fill="#9ccb6c" opacity="0.7"/><ellipse cx="45.3" cy="20.3" rx="1.1" ry="5.1" fill="#a8d47a" opacity="0.7"/><ellipse cx="19.9" cy="46.2" rx="1.2" ry="4.9" fill="#a8d47a" opacity="0.7"/><ellipse cx="24.5" cy="44.1" rx="1.5" ry="5.2" fill="#4a8a30" opacity="0.7"/><ellipse cx="7.0" cy="25.8" rx="1.5" ry="5.0" fill="#7fb555" opacity="0.7"/><ellipse cx="33.5" cy="28.4" rx="1.2" ry="6.0" fill="#a8d47a" opacity="0.7"/><ellipse cx="1.0" cy="12.8" rx="0.7" ry="2.9" fill="#3b7027" opacity="0.7"/><ellipse cx="27.2" cy="39.0" rx="1.7" ry="4.5" fill="#a8d47a" opacity="0.7"/><ellipse cx="48.6" cy="31.9" rx="0.8" ry="3.7" fill="#a8d47a" opacity="0.7"/>
<ellipse cx="32.5" cy="14.5" rx="3.3" ry="4.2" fill="#a8735a"/>
<path d="M29.2,13 Q29.5,9 33,9 Q36.5,9.5 36,13 Q33,11.5 29.2,13Z" fill="#2c2420"/>
<path d="M22.5,22 Q27,19.5 33,19.5 Q38.5,20 40.5,23 L41,31 L38.5,31.5 L38.5,46 L25,46 L24.5,31 L21.5,31 Z" fill="#2b9db6"/>
<path d="M24.8,27 Q31,24 38,25.5 L38,31 Q31,30.5 25,33Z" fill="#8ad8e0" opacity="0.8"/>
<path d="M25,34 L35,32 L31,36 L38,36 L27,40 L36,40.5 L26,44 L33,46 L25,46Z" fill="#d6ec5e" opacity="0.9"/>
<rect x="20.5" y="30" width="2.6" height="13" rx="1" fill="#a8735a"/>
<rect x="38.2" y="30" width="2.2" height="11" rx="1" fill="#a8735a"/>
<rect x="25" y="45" width="13" height="4" fill="#ddd8c8"/>
</g>
</g></svg>
<div class="t" style="left:150.50px;top:25.49px;font-size:16px;line-height:16px;color:#a9acb6;font-weight:normal;transform:scaleX(0.9331);transform-origin:left center;-webkit-text-stroke:0.6px #a9acb6;">Jarwadi MJ</div>
<div class="t" style="left:729.40px;top:22.62px;font-size:20.5px;line-height:20.5px;color:#d5d6db;font-weight:normal;transform:scaleX(0.9533);transform-origin:left center;-webkit-text-stroke:0.6px #d5d6db;">Dashboard</div>
<div class="t" style="left:865.40px;top:22.62px;font-size:20.5px;line-height:20.5px;color:#d5d6db;font-weight:normal;transform:scaleX(0.9498);transform-origin:left center;-webkit-text-stroke:0.6px #d5d6db;">EvoLab Metrics</div>
<div class="t" style="left:1038.00px;top:22.62px;font-size:20.5px;line-height:20.5px;color:#d5d6db;font-weight:normal;transform:scaleX(0.9899);transform-origin:left center;-webkit-text-stroke:0.6px #d5d6db;">Workout List</div>
<div class="t" style="left:1188.90px;top:22.62px;font-size:20.5px;line-height:20.5px;color:#d5d6db;font-weight:normal;transform:scaleX(0.9773);transform-origin:left center;-webkit-text-stroke:0.6px #d5d6db;">Calendar</div>
<div class="r" style="left:855px;top:58px;width:154px;height:5px;background:#f0283c;"></div>
<div class="t" style="left:115.80px;top:181.72px;font-size:20.5px;line-height:20.5px;color:#f3f3f5;font-weight:normal;transform:scaleX(0.9664);transform-origin:left center;-webkit-text-stroke:0.6px #f3f3f5;">Pace Zone Distribution</div>
<svg width="20" height="20" viewBox="0 0 20 20" style="left:394.5px;top:181.5px">
<circle cx="10" cy="10" r="8.5" fill="#c8c8ca"/>
<circle cx="10.8" cy="5.8" r="1.7" fill="#1a1f30"/>
<path d="M7.6,8.6 L11.6,8.4 L10.2,14.2 Q10.1,14.9 10.8,14.7 L11.6,14.4 L11.4,15.3 Q9.8,16.1 8.6,15.9 Q7.6,15.6 7.9,14.5 L9,9.9 L7.5,9.6 Z" fill="#1a1f30"/>
</svg>
<svg width="24" height="24" viewBox="0 0 24 24" style="left:945.8px;top:179.9px">
<g fill="#9a9a9e">
<rect x="0.4" y="0.6" width="2.2" height="8.6"/><rect x="0.4" y="0.6" width="8.6" height="2.2"/>
<rect x="20.2" y="0.1" width="2.8" height="9.5"/><rect x="13.6" y="0.1" width="9.4" height="2.8"/>
<rect x="0.2" y="13.7" width="2.8" height="9.2"/><rect x="0.2" y="20.2" width="9.3" height="2.8"/>
<rect x="20.3" y="13.9" width="2.3" height="8.6"/><rect x="13.8" y="20.2" width="8.8" height="2.3"/>
</g>
<g stroke="#9a9a9e" stroke-width="2.5" stroke-linecap="round">
<line x1="21" y1="2" x2="15.2" y2="7.8"/>
<line x1="2" y1="21" x2="7.8" y2="15.2"/>
</g></svg>
<div class="t" style="left:322.70px;top:186.47px;font-size:15px;line-height:15px;color:#c4c5cb;font-weight:normal;transform:scaleX(0.9299);transform-origin:left center;-webkit-text-stroke:0.6px #c4c5cb;">(4 Weeks)</div>
<div class="t" style="left:1027.50px;top:181.72px;font-size:20.5px;line-height:20.5px;color:#f3f3f5;font-weight:normal;transform:scaleX(0.9411);transform-origin:left center;-webkit-text-stroke:0.6px #f3f3f5;">Threshold Heart Rate &amp; Pace</div>
<svg width="20" height="20" viewBox="0 0 20 20" style="left:1364.2px;top:181.5px">
<circle cx="10" cy="10" r="8.5" fill="#c8c8ca"/>
<circle cx="10.8" cy="5.8" r="1.7" fill="#1a1f30"/>
<path d="M7.6,8.6 L11.6,8.4 L10.2,14.2 Q10.1,14.9 10.8,14.7 L11.6,14.4 L11.4,15.3 Q9.8,16.1 8.6,15.9 Q7.6,15.6 7.9,14.5 L9,9.9 L7.5,9.6 Z" fill="#1a1f30"/>
</svg>
<svg width="24" height="24" viewBox="0 0 24 24" style="left:1857.8px;top:179.9px">
<g fill="#9a9a9e">
<rect x="0.4" y="0.6" width="2.2" height="8.6"/><rect x="0.4" y="0.6" width="8.6" height="2.2"/>
<rect x="20.2" y="0.1" width="2.8" height="9.5"/><rect x="13.6" y="0.1" width="9.4" height="2.8"/>
<rect x="0.2" y="13.7" width="2.8" height="9.2"/><rect x="0.2" y="20.2" width="9.3" height="2.8"/>
<rect x="20.3" y="13.9" width="2.3" height="8.6"/><rect x="13.8" y="20.2" width="8.8" height="2.3"/>
</g>
<g stroke="#9a9a9e" stroke-width="2.5" stroke-linecap="round">
<line x1="21" y1="2" x2="15.2" y2="7.8"/>
<line x1="2" y1="21" x2="7.8" y2="15.2"/>
</g></svg>
<div class="t" style="left:1285.00px;top:186.47px;font-size:15px;line-height:15px;color:#c4c5cb;font-weight:normal;transform:scaleX(0.9292);transform-origin:left center;-webkit-text-stroke:0.6px #c4c5cb;">(12 Weeks)</div>
<div class="t" style="left:115.80px;top:632.72px;font-size:20.5px;line-height:20.5px;color:#f3f3f5;font-weight:normal;transform:scaleX(0.9774);transform-origin:left center;-webkit-text-stroke:0.6px #f3f3f5;">Distance Zone Distribution</div>
<svg width="20" height="20" viewBox="0 0 20 20" style="left:428.5px;top:632.5px">
<circle cx="10" cy="10" r="8.5" fill="#c8c8ca"/>
<circle cx="10.8" cy="5.8" r="1.7" fill="#1a1f30"/>
<path d="M7.6,8.6 L11.6,8.4 L10.2,14.2 Q10.1,14.9 10.8,14.7 L11.6,14.4 L11.4,15.3 Q9.8,16.1 8.6,15.9 Q7.6,15.6 7.9,14.5 L9,9.9 L7.5,9.6 Z" fill="#1a1f30"/>
</svg>
<svg width="24" height="24" viewBox="0 0 24 24" style="left:945.8px;top:630.9px">
<g fill="#9a9a9e">
<rect x="0.4" y="0.6" width="2.2" height="8.6"/><rect x="0.4" y="0.6" width="8.6" height="2.2"/>
<rect x="20.2" y="0.1" width="2.8" height="9.5"/><rect x="13.6" y="0.1" width="9.4" height="2.8"/>
<rect x="0.2" y="13.7" width="2.8" height="9.2"/><rect x="0.2" y="20.2" width="9.3" height="2.8"/>
<rect x="20.3" y="13.9" width="2.3" height="8.6"/><rect x="13.8" y="20.2" width="8.8" height="2.3"/>
</g>
<g stroke="#9a9a9e" stroke-width="2.5" stroke-linecap="round">
<line x1="21" y1="2" x2="15.2" y2="7.8"/>
<line x1="2" y1="21" x2="7.8" y2="15.2"/>
</g></svg>
<div class="t" style="left:356.70px;top:637.47px;font-size:15px;line-height:15px;color:#c4c5cb;font-weight:normal;transform:scaleX(0.9358);transform-origin:left center;-webkit-text-stroke:0.6px #c4c5cb;">(4 Weeks)</div>
<div class="t" style="left:1027.20px;top:632.72px;font-size:20.5px;line-height:20.5px;color:#f3f3f5;font-weight:normal;transform:scaleX(0.9725);transform-origin:left center;-webkit-text-stroke:0.6px #f3f3f5;">Threshold Heart Rate Zones Distribution</div>
<svg width="20" height="20" viewBox="0 0 20 20" style="left:1461.8px;top:632.5px">
<circle cx="10" cy="10" r="8.5" fill="#c8c8ca"/>
<circle cx="10.8" cy="5.8" r="1.7" fill="#1a1f30"/>
<path d="M7.6,8.6 L11.6,8.4 L10.2,14.2 Q10.1,14.9 10.8,14.7 L11.6,14.4 L11.4,15.3 Q9.8,16.1 8.6,15.9 Q7.6,15.6 7.9,14.5 L9,9.9 L7.5,9.6 Z" fill="#1a1f30"/>
</svg>
<svg width="24" height="24" viewBox="0 0 24 24" style="left:1857.8px;top:630.9px">
<g fill="#9a9a9e">
<rect x="0.4" y="0.6" width="2.2" height="8.6"/><rect x="0.4" y="0.6" width="8.6" height="2.2"/>
<rect x="20.2" y="0.1" width="2.8" height="9.5"/><rect x="13.6" y="0.1" width="9.4" height="2.8"/>
<rect x="0.2" y="13.7" width="2.8" height="9.2"/><rect x="0.2" y="20.2" width="9.3" height="2.8"/>
<rect x="20.3" y="13.9" width="2.3" height="8.6"/><rect x="13.8" y="20.2" width="8.8" height="2.3"/>
</g>
<g stroke="#9a9a9e" stroke-width="2.5" stroke-linecap="round">
<line x1="21" y1="2" x2="15.2" y2="7.8"/>
<line x1="2" y1="21" x2="7.8" y2="15.2"/>
</g></svg>
<div class="t" style="left:1390.00px;top:637.47px;font-size:15px;line-height:15px;color:#c4c5cb;font-weight:normal;transform:scaleX(0.9446);transform-origin:left center;-webkit-text-stroke:0.6px #c4c5cb;">(4 Weeks)</div>
<div class="r" style="left:116px;top:241px;width:190px;height:31px;background:#232a3f;border:1px solid #56565c;border-radius:4px;"></div>
<div class="t" style="left:136.30px;top:249.53px;font-size:15.5px;line-height:15.5px;color:#f4f4f6;font-weight:normal;transform:scaleX(0.9521);transform-origin:left center;-webkit-text-stroke:0.6px #f4f4f6;">Training Load</div>
<svg width="16" height="10" viewBox="0 0 16 10" style="left:279px;top:253px">
<polyline points="1.5,1.5 8,8 14.5,1.5" fill="none" stroke="#c9c9cc" stroke-width="1.4"/></svg>
<div class="r" style="left:116px;top:692px;width:190px;height:32px;background:#232a3f;border:1px solid #56565c;border-radius:4px;"></div>
<div class="t" style="left:136.30px;top:701.03px;font-size:15.5px;line-height:15.5px;color:#f4f4f6;font-weight:normal;transform:scaleX(0.9599);transform-origin:left center;-webkit-text-stroke:0.6px #f4f4f6;">Frequency</div>
<svg width="16" height="10" viewBox="0 0 16 10" style="left:279px;top:704px">
<polyline points="1.5,1.5 8,8 14.5,1.5" fill="none" stroke="#c9c9cc" stroke-width="1.4"/></svg>
<div class="r" style="left:1028px;top:692px;width:190px;height:32px;background:#232a3f;border:1px solid #56565c;border-radius:4px;"></div>
<div class="t" style="left:1048.30px;top:701.03px;font-size:15.5px;line-height:15.5px;color:#f4f4f6;font-weight:normal;transform:scaleX(0.9596);transform-origin:left center;-webkit-text-stroke:0.6px #f4f4f6;">Training Load</div>
<svg width="16" height="10" viewBox="0 0 16 10" style="left:1191px;top:704px">
<polyline points="1.5,1.5 8,8 14.5,1.5" fill="none" stroke="#c9c9cc" stroke-width="1.4"/></svg>
<svg width="1920" height="1080" viewBox="0 0 1920 1080" style="left:0;top:0"><path d="M296.70,348.00 A92,92 0 1 1 229.58,502.92 L268.25,466.67 A39,39 0 1 0 296.70,401.00 Z" fill="#76e8c7" stroke="#76e8c7" stroke-width="0.3"/><path d="M229.58,502.92 A92,92 0 0 1 280.94,349.36 L290.02,401.58 A39,39 0 0 0 268.25,466.67 Z" fill="#36d9aa" stroke="#36d9aa" stroke-width="0.3"/><path d="M280.94,349.36 A92,92 0 0 1 296.70,348.00 L296.70,401.00 A39,39 0 0 0 290.02,401.58 Z" fill="#02bd8a" stroke="#02bd8a" stroke-width="0.3"/></svg>
<svg width="1920" height="1080" viewBox="0 0 1920 1080" style="left:0;top:0"><path d="M296.70,798.80 A92,92 0 0 1 350.78,816.37 L319.62,859.25 A39,39 0 0 0 296.70,851.80 Z" fill="#9ee2fe" stroke="#9ee2fe" stroke-width="0.3"/><path d="M350.78,816.37 A92,92 0 0 1 296.70,982.80 L296.70,929.80 A39,39 0 0 0 319.62,859.25 Z" fill="#4ec8fe" stroke="#4ec8fe" stroke-width="0.3"/><path d="M296.70,982.80 A92,92 0 0 1 242.62,816.37 L273.78,859.25 A39,39 0 0 0 296.70,929.80 Z" fill="#00b1fe" stroke="#00b1fe" stroke-width="0.3"/><path d="M242.62,816.37 A92,92 0 0 1 296.70,798.80 L296.70,851.80 A39,39 0 0 0 273.78,859.25 Z" fill="#02486a" stroke="#02486a" stroke-width="0.3"/></svg>
<svg width="1920" height="1080" viewBox="0 0 1920 1080" style="left:0;top:0"><path d="M1208.50,798.80 A92,92 0 1 1 1117.50,904.34 L1169.92,896.54 A39,39 0 1 0 1208.50,851.80 Z" fill="#fe98a1" stroke="#fe98a1" stroke-width="0.3"/><path d="M1117.50,904.34 A92,92 0 0 1 1184.09,802.10 L1198.15,853.20 A39,39 0 0 0 1169.92,896.54 Z" fill="#fe6e7c" stroke="#fe6e7c" stroke-width="0.3"/><path d="M1184.09,802.10 A92,92 0 0 1 1208.50,798.80 L1208.50,851.80 A39,39 0 0 0 1198.15,853.20 Z" fill="#fe4b5f" stroke="#fe4b5f" stroke-width="0.3"/></svg>
<div class="t" style="left:461.34px;top:324.48px;font-size:15.8px;line-height:15.8px;color:#b5b6bc;font-weight:normal;transform:scaleX(0.9210);transform-origin:left center;-webkit-text-stroke:0.25px #b5b6bc;">63.0%</div>
<div class="t" style="left:545.30px;top:319.88px;font-size:15.8px;line-height:15.8px;color:#b5b6bc;font-weight:normal;transform:scaleX(0.9800);transform-origin:left center;-webkit-text-stroke:0.25px #b5b6bc;">Zone 1</div>
<div class="r" style="left:603px;top:323px;width:315px;height:12px;background:#363c4b;"></div>
<div class="r" style="left:603px;top:323px;width:198.5px;height:12px;background:#76e8c7;"></div>
<div class="t" style="left:927.50px;top:319.68px;font-size:15.8px;line-height:15.8px;color:#b5b6bc;font-weight:normal;-webkit-text-stroke:0.25px #b5b6bc;">46</div>
<div class="t" style="left:461.34px;top:365.68px;font-size:15.8px;line-height:15.8px;color:#b5b6bc;font-weight:normal;transform:scaleX(0.9210);transform-origin:left center;-webkit-text-stroke:0.25px #b5b6bc;">34.2%</div>
<div class="t" style="left:545.30px;top:361.88px;font-size:15.8px;line-height:15.8px;color:#b5b6bc;font-weight:normal;transform:scaleX(0.9800);transform-origin:left center;-webkit-text-stroke:0.25px #b5b6bc;">Zone 2</div>
<div class="r" style="left:603px;top:365px;width:315px;height:12px;background:#363c4b;"></div>
<div class="r" style="left:603px;top:365px;width:107.9px;height:12px;background:#36d9aa;"></div>
<div class="t" style="left:927.50px;top:361.68px;font-size:15.8px;line-height:15.8px;color:#b5b6bc;font-weight:normal;-webkit-text-stroke:0.25px #b5b6bc;">25</div>
<div class="t" style="left:469.44px;top:406.68px;font-size:15.8px;line-height:15.8px;color:#b5b6bc;font-weight:normal;transform:scaleX(0.9210);transform-origin:left center;-webkit-text-stroke:0.25px #b5b6bc;">2.7%</div>
<div class="t" style="left:545.30px;top:403.88px;font-size:15.8px;line-height:15.8px;color:#b5b6bc;font-weight:normal;transform:scaleX(0.9800);transform-origin:left center;-webkit-text-stroke:0.25px #b5b6bc;">Zone 3</div>
<div class="r" style="left:603px;top:407px;width:315px;height:12px;background:#363c4b;"></div>
<div class="r" style="left:603px;top:407px;width:8.6px;height:12px;background:#02bd8a;"></div>
<div class="t" style="left:927.50px;top:403.68px;font-size:15.8px;line-height:15.8px;color:#b5b6bc;font-weight:normal;-webkit-text-stroke:0.25px #b5b6bc;">2</div>
<div class="t" style="left:469.44px;top:447.48px;font-size:15.8px;line-height:15.8px;color:#b5b6bc;font-weight:normal;transform:scaleX(0.9210);transform-origin:left center;-webkit-text-stroke:0.25px #b5b6bc;">0.0%</div>
<div class="t" style="left:545.30px;top:445.88px;font-size:15.8px;line-height:15.8px;color:#b5b6bc;font-weight:normal;transform:scaleX(0.9800);transform-origin:left center;-webkit-text-stroke:0.25px #b5b6bc;">Zone 4</div>
<div class="r" style="left:603px;top:449px;width:315px;height:12px;background:#363c4b;"></div>
<div class="t" style="left:927.50px;top:445.68px;font-size:15.8px;line-height:15.8px;color:#b5b6bc;font-weight:normal;-webkit-text-stroke:0.25px #b5b6bc;">0</div>
<div class="t" style="left:469.44px;top:488.38px;font-size:15.8px;line-height:15.8px;color:#b5b6bc;font-weight:normal;transform:scaleX(0.9210);transform-origin:left center;-webkit-text-stroke:0.25px #b5b6bc;">0.0%</div>
<div class="t" style="left:545.30px;top:487.88px;font-size:15.8px;line-height:15.8px;color:#b5b6bc;font-weight:normal;transform:scaleX(0.9800);transform-origin:left center;-webkit-text-stroke:0.25px #b5b6bc;">Zone 5</div>
<div class="r" style="left:603px;top:491px;width:315px;height:12px;background:#363c4b;"></div>
<div class="t" style="left:927.50px;top:487.68px;font-size:15.8px;line-height:15.8px;color:#b5b6bc;font-weight:normal;-webkit-text-stroke:0.25px #b5b6bc;">0</div>
<div class="t" style="left:469.44px;top:529.38px;font-size:15.8px;line-height:15.8px;color:#b5b6bc;font-weight:normal;transform:scaleX(0.9210);transform-origin:left center;-webkit-text-stroke:0.25px #b5b6bc;">0.0%</div>
<div class="t" style="left:545.30px;top:529.88px;font-size:15.8px;line-height:15.8px;color:#b5b6bc;font-weight:normal;transform:scaleX(0.9800);transform-origin:left center;-webkit-text-stroke:0.25px #b5b6bc;">Zone 6</div>
<div class="r" style="left:603px;top:533px;width:315px;height:12px;background:#363c4b;"></div>
<div class="t" style="left:927.50px;top:529.68px;font-size:15.8px;line-height:15.8px;color:#b5b6bc;font-weight:normal;-webkit-text-stroke:0.25px #b5b6bc;">0</div>
<div class="t" style="left:461.34px;top:770.88px;font-size:15.8px;line-height:15.8px;color:#b5b6bc;font-weight:normal;transform:scaleX(0.9210);transform-origin:left center;-webkit-text-stroke:0.25px #b5b6bc;">10.0%</div>
<div class="t" style="left:545.30px;top:770.88px;font-size:15.8px;line-height:15.8px;color:#b5b6bc;font-weight:normal;transform:scaleX(0.9800);transform-origin:left center;-webkit-text-stroke:0.25px #b5b6bc;">Zone 1</div>
<div class="r" style="left:603px;top:774px;width:315px;height:12px;background:#363c4b;"></div>
<div class="r" style="left:603px;top:774px;width:31.5px;height:12px;background:#9ee2fe;"></div>
<div class="t" style="left:927.50px;top:770.68px;font-size:15.8px;line-height:15.8px;color:#b5b6bc;font-weight:normal;-webkit-text-stroke:0.25px #b5b6bc;">1</div>
<div class="t" style="left:461.34px;top:813.38px;font-size:15.8px;line-height:15.8px;color:#b5b6bc;font-weight:normal;transform:scaleX(0.9210);transform-origin:left center;-webkit-text-stroke:0.25px #b5b6bc;">40.0%</div>
<div class="t" style="left:545.30px;top:812.88px;font-size:15.8px;line-height:15.8px;color:#b5b6bc;font-weight:normal;transform:scaleX(0.9800);transform-origin:left center;-webkit-text-stroke:0.25px #b5b6bc;">Zone 2</div>
<div class="r" style="left:603px;top:816px;width:315px;height:12px;background:#363c4b;"></div>
<div class="r" style="left:603px;top:816px;width:126px;height:12px;background:#4ec8fe;"></div>
<div class="t" style="left:927.50px;top:812.68px;font-size:15.8px;line-height:15.8px;color:#b5b6bc;font-weight:normal;-webkit-text-stroke:0.25px #b5b6bc;">4</div>
<div class="t" style="left:461.34px;top:855.38px;font-size:15.8px;line-height:15.8px;color:#b5b6bc;font-weight:normal;transform:scaleX(0.9210);transform-origin:left center;-webkit-text-stroke:0.25px #b5b6bc;">40.0%</div>
<div class="t" style="left:545.30px;top:854.88px;font-size:15.8px;line-height:15.8px;color:#b5b6bc;font-weight:normal;transform:scaleX(0.9800);transform-origin:left center;-webkit-text-stroke:0.25px #b5b6bc;">Zone 3</div>
<div class="r" style="left:603px;top:858px;width:315px;height:12px;background:#363c4b;"></div>
<div class="r" style="left:603px;top:858px;width:126px;height:12px;background:#00b1fe;"></div>
<div class="t" style="left:927.50px;top:854.68px;font-size:15.8px;line-height:15.8px;color:#b5b6bc;font-weight:normal;-webkit-text-stroke:0.25px #b5b6bc;">4</div>
<div class="t" style="left:469.44px;top:897.98px;font-size:15.8px;line-height:15.8px;color:#b5b6bc;font-weight:normal;transform:scaleX(0.9210);transform-origin:left center;-webkit-text-stroke:0.25px #b5b6bc;">0.0%</div>
<div class="t" style="left:545.30px;top:896.88px;font-size:15.8px;line-height:15.8px;color:#b5b6bc;font-weight:normal;transform:scaleX(0.9800);transform-origin:left center;-webkit-text-stroke:0.25px #b5b6bc;">Zone 4</div>
<div class="r" style="left:603px;top:900px;width:315px;height:12px;background:#363c4b;"></div>
<div class="t" style="left:927.50px;top:896.68px;font-size:15.8px;line-height:15.8px;color:#b5b6bc;font-weight:normal;-webkit-text-stroke:0.25px #b5b6bc;">0</div>
<div class="t" style="left:469.44px;top:939.98px;font-size:15.8px;line-height:15.8px;color:#b5b6bc;font-weight:normal;transform:scaleX(0.9210);transform-origin:left center;-webkit-text-stroke:0.25px #b5b6bc;">0.0%</div>
<div class="t" style="left:545.30px;top:938.88px;font-size:15.8px;line-height:15.8px;color:#b5b6bc;font-weight:normal;transform:scaleX(0.9800);transform-origin:left center;-webkit-text-stroke:0.25px #b5b6bc;">Zone 5</div>
<div class="r" style="left:603px;top:942px;width:315px;height:12px;background:#363c4b;"></div>
<div class="t" style="left:927.50px;top:938.68px;font-size:15.8px;line-height:15.8px;color:#b5b6bc;font-weight:normal;-webkit-text-stroke:0.25px #b5b6bc;">0</div>
<div class="t" style="left:461.34px;top:981.38px;font-size:15.8px;line-height:15.8px;color:#b5b6bc;font-weight:normal;transform:scaleX(0.9210);transform-origin:left center;-webkit-text-stroke:0.25px #b5b6bc;">10.0%</div>
<div class="t" style="left:545.30px;top:980.88px;font-size:15.8px;line-height:15.8px;color:#b5b6bc;font-weight:normal;transform:scaleX(0.9800);transform-origin:left center;-webkit-text-stroke:0.25px #b5b6bc;">Zone 6</div>
<div class="r" style="left:603px;top:984px;width:315px;height:12px;background:#363c4b;"></div>
<div class="r" style="left:603px;top:984px;width:31.5px;height:12px;background:#02486a;"></div>
<div class="t" style="left:927.50px;top:980.68px;font-size:15.8px;line-height:15.8px;color:#b5b6bc;font-weight:normal;-webkit-text-stroke:0.25px #b5b6bc;">1</div>
<div class="t" style="left:1372.74px;top:775.08px;font-size:15.8px;line-height:15.8px;color:#b5b6bc;font-weight:normal;transform:scaleX(0.9210);transform-origin:left center;-webkit-text-stroke:0.25px #b5b6bc;">72.6%</div>
<div class="t" style="left:1457.20px;top:771.18px;font-size:15.8px;line-height:15.8px;color:#b5b6bc;font-weight:normal;transform:scaleX(0.9800);transform-origin:left center;-webkit-text-stroke:0.25px #b5b6bc;">Zone 1</div>
<div class="r" style="left:1515px;top:775px;width:314px;height:12px;background:#363c4b;"></div>
<div class="r" style="left:1515px;top:775px;width:228.1px;height:12px;background:#fe98a1;"></div>
<div class="t" style="left:1839.00px;top:770.98px;font-size:15.8px;line-height:15.8px;color:#b5b6bc;font-weight:normal;-webkit-text-stroke:0.25px #b5b6bc;">85</div>
<div class="t" style="left:1372.74px;top:822.18px;font-size:15.8px;line-height:15.8px;color:#b5b6bc;font-weight:normal;transform:scaleX(0.9210);transform-origin:left center;-webkit-text-stroke:0.25px #b5b6bc;">23.1%</div>
<div class="t" style="left:1457.20px;top:819.18px;font-size:15.8px;line-height:15.8px;color:#b5b6bc;font-weight:normal;transform:scaleX(0.9800);transform-origin:left center;-webkit-text-stroke:0.25px #b5b6bc;">Zone 2</div>
<div class="r" style="left:1515px;top:823px;width:314px;height:12px;background:#363c4b;"></div>
<div class="r" style="left:1515px;top:823px;width:72.5px;height:12px;background:#fe6e7c;"></div>
<div class="t" style="left:1839.00px;top:818.98px;font-size:15.8px;line-height:15.8px;color:#b5b6bc;font-weight:normal;-webkit-text-stroke:0.25px #b5b6bc;">27</div>
<div class="t" style="left:1380.84px;top:869.28px;font-size:15.8px;line-height:15.8px;color:#b5b6bc;font-weight:normal;transform:scaleX(0.9210);transform-origin:left center;-webkit-text-stroke:0.25px #b5b6bc;">4.3%</div>
<div class="t" style="left:1457.20px;top:867.68px;font-size:15.8px;line-height:15.8px;color:#b5b6bc;font-weight:normal;transform:scaleX(0.9800);transform-origin:left center;-webkit-text-stroke:0.25px #b5b6bc;">Zone 3</div>
<div class="r" style="left:1515px;top:871.5px;width:314px;height:12px;background:#363c4b;"></div>
<div class="r" style="left:1515px;top:871.5px;width:13.4px;height:12px;background:#fe4b5f;"></div>
<div class="t" style="left:1839.00px;top:867.48px;font-size:15.8px;line-height:15.8px;color:#b5b6bc;font-weight:normal;-webkit-text-stroke:0.25px #b5b6bc;">5</div>
<div class="t" style="left:1380.84px;top:916.38px;font-size:15.8px;line-height:15.8px;color:#b5b6bc;font-weight:normal;transform:scaleX(0.9210);transform-origin:left center;-webkit-text-stroke:0.25px #b5b6bc;">0.0%</div>
<div class="t" style="left:1457.20px;top:916.18px;font-size:15.8px;line-height:15.8px;color:#b5b6bc;font-weight:normal;transform:scaleX(0.9800);transform-origin:left center;-webkit-text-stroke:0.25px #b5b6bc;">Zone 4</div>
<div class="r" style="left:1515px;top:920px;width:314px;height:12px;background:#363c4b;"></div>
<div class="t" style="left:1839.00px;top:915.98px;font-size:15.8px;line-height:15.8px;color:#b5b6bc;font-weight:normal;-webkit-text-stroke:0.25px #b5b6bc;">0</div>
<div class="t" style="left:1380.84px;top:963.48px;font-size:15.8px;line-height:15.8px;color:#b5b6bc;font-weight:normal;transform:scaleX(0.9210);transform-origin:left center;-webkit-text-stroke:0.25px #b5b6bc;">0.0%</div>
<div class="t" style="left:1457.20px;top:964.68px;font-size:15.8px;line-height:15.8px;color:#b5b6bc;font-weight:normal;transform:scaleX(0.9800);transform-origin:left center;-webkit-text-stroke:0.25px #b5b6bc;">Zone 5</div>
<div class="r" style="left:1515px;top:968.5px;width:314px;height:12px;background:#363c4b;"></div>
<div class="t" style="left:1839.00px;top:964.48px;font-size:15.8px;line-height:15.8px;color:#b5b6bc;font-weight:normal;-webkit-text-stroke:0.25px #b5b6bc;">0</div>
<div class="r" style="left:751px;top:66px;width:417px;height:76px;background:rgba(43,45,49,0.76);"></div>
<div class="t" style="left:812.00px;top:93.90px;font-size:22px;line-height:22px;color:#f2f2f4;font-weight:normal;transform:scaleX(0.8838);transform-origin:left center;">Press</div>
<div class="r" style="left:874px;top:79px;width:50px;height:46px;border:2px solid #f2f2f4;border-radius:4px;"></div>
<div class="t" style="left:884.25px;top:93.90px;font-size:22px;line-height:22px;color:#f2f2f4;font-weight:normal;transform:scaleX(0.8959);transform-origin:left center;">F11</div>
<div class="t" style="left:939.20px;top:93.90px;font-size:22px;line-height:22px;color:#f2f2f4;font-weight:normal;transform:scaleX(1.0196);transform-origin:left center;">to exit full screen</div>
</body></html>
